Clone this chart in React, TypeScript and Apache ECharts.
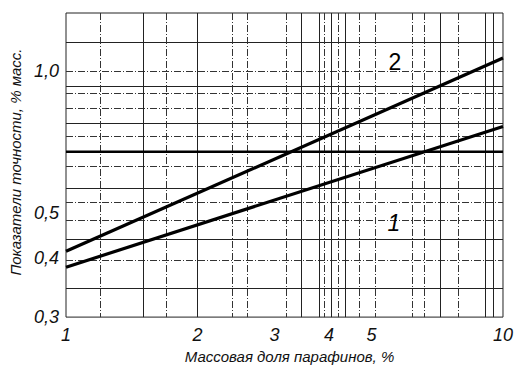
import React, { useEffect, useRef } from "react";
import * as echarts from "echarts";

// X axis (log): mass fraction of paraffins, %
const xLabelValues = [1, 2, 3, 4, 5, 10];
const xGridSolid = [1.5, 2, 3.45, 3.8, 4.05, 4.35, 7.2, 9.1, 9.5];
const xGridDashed = [1.2, 1.7, 2.4, 2.6, 3.2, 3.9, 4.2, 4.7, 5.1, 6.2, 6.6, 7.9];

// Y axis (log): precision indicators, % mass
const yLabelValues = [0.3, 0.4, 0.5, 1.0];
const yGridSolid = [1.152, 0.929, 0.774, 0.565, 0.44, 0.345];
const yGridDashed = [1.0, 0.899, 0.836, 0.728, 0.628, 0.526, 0.482, 0.397];

// Series
const line1: [number, number][] = [[1, 0.383], [10, 0.763]];
const line2: [number, number][] = [[1, 0.414], [10, 1.067]];
const limitLine: [number, number][] = [[1, 0.674], [10, 0.674]];
const label1Pos: [number, number] = [5.63, 0.475];
const label2Pos: [number, number] = [5.66, 1.047];

const FONT = "'Liberation Sans', Arial, sans-serif";

export default function App() {
  const ref = useRef<HTMLDivElement>(null);
  useEffect(() => {
    if (!ref.current) return;
    const chart = echarts.init(ref.current, null, { renderer: "svg" });
    const solidLine = { color: "#222", width: 1, type: "solid" as const };
    const dashedLine = { color: "#333", width: 1, type: [7, 2, 1, 2] as any };
    const baseX = { type: "log" as const, logBase: 10, min: 1, max: 10, gridIndex: 0 };
    const baseY = { type: "log" as const, logBase: 10, min: 0.3, max: 1.33, gridIndex: 0 };
    chart.setOption({
      animation: false,
      backgroundColor: "#fff",
      grid: {
        left: 62,
        right: 13,
        top: 13,
        bottom: 45,
        show: true,
        borderColor: "#222",
        borderWidth: 1,
        backgroundColor: "transparent",
      },
      xAxis: [
        {
          ...baseX,
          position: "bottom",
          name: "Массовая доля парафинов, %",
          nameLocation: "middle",
          nameGap: 28,
          nameTextStyle: {
            fontFamily: FONT,
            fontStyle: "italic",
            fontSize: 15,
            color: "#111",
            padding: [0, 0, 0, 10],
          },
          axisLine: { show: false },
          axisTick: { show: false, customValues: xGridSolid },
          axisLabel: {
            customValues: xLabelValues,
            fontFamily: FONT,
            fontStyle: "italic",
            fontSize: 18,
            color: "#111",
            margin: 9,
            formatter: (v: number) => String(v),
          },
          splitLine: { show: true, lineStyle: solidLine },
        },
        {
          ...baseX,
          position: "top",
          axisLine: { show: false },
          axisTick: { show: false, customValues: xGridDashed },
          axisLabel: { show: false },
          splitLine: { show: true, lineStyle: dashedLine },
        },
      ],
      yAxis: [
        {
          ...baseY,
          position: "left",
          name: "Показатели точности, % масс.",
          nameLocation: "middle",
          nameGap: 43,
          nameRotate: 90,
          nameTextStyle: {
            fontFamily: FONT,
            fontStyle: "italic",
            fontSize: 15,
            color: "#111",
            padding: [0, 0, 0, 6],
          },
          axisLine: { show: false },
          axisTick: { show: false, customValues: yGridSolid },
          axisLabel: {
            customValues: yLabelValues,
            fontFamily: FONT,
            fontStyle: "italic",
            fontSize: 18,
            color: "#111",
            margin: 7,
            formatter: (v: number) => v.toFixed(1).replace(".", ","),
          },
          splitLine: { show: true, lineStyle: solidLine },
        },
        {
          ...baseY,
          position: "right",
          axisLine: { show: false },
          axisTick: { show: false, customValues: yGridDashed },
          axisLabel: { show: false },
          splitLine: { show: true, lineStyle: dashedLine },
        },
      ],
      series: [
        {
          type: "line",
          name: "1",
          data: line1,
          symbol: "none",
          lineStyle: { color: "#000", width: 3.2 },
          markPoint: {
            symbol: "circle",
            symbolSize: 0,
            label: {
              show: true,
              position: "inside",
              formatter: "1",
              fontFamily: FONT,
              fontStyle: "italic",
              fontSize: 23,
              color: "#000",
            },
            data: [{ coord: label1Pos }],
          },
        },
        {
          type: "line",
          name: "2",
          data: line2,
          symbol: "none",
          lineStyle: { color: "#000", width: 3.2 },
          markPoint: {
            symbol: "circle",
            symbolSize: 0,
            label: {
              show: true,
              position: "inside",
              formatter: "2",
              fontFamily: FONT,
              fontSize: 23,
              color: "#000",
            },
            data: [{ coord: label2Pos }],
          },
        },
        {
          type: "line",
          name: "limit",
          data: limitLine,
          symbol: "none",
          lineStyle: { color: "#000", width: 2.6 },
        },
      ],
    });
    return () => chart.dispose();
  }, []);
  return <div ref={ref} style={{ width: 516, height: 369, position: "absolute", left: 0, top: 0 }} />;
}
